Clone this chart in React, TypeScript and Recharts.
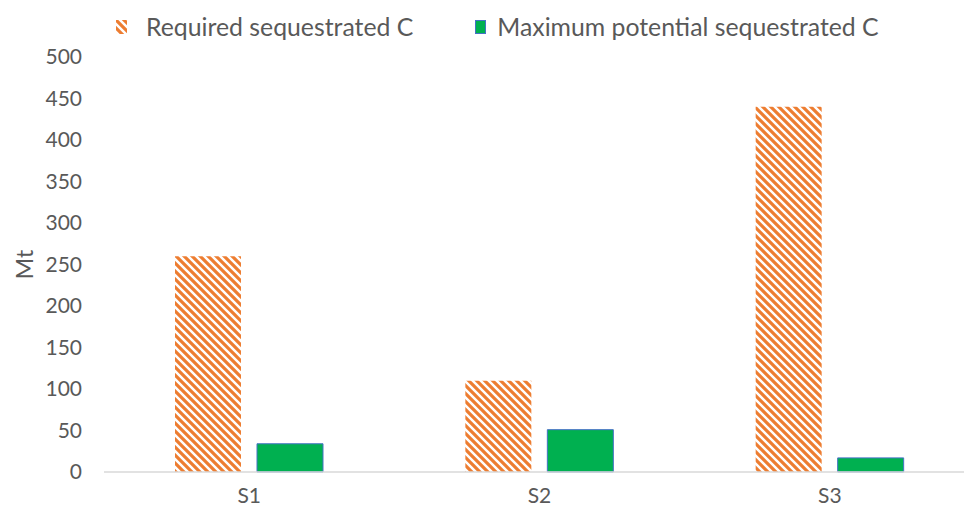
import React from 'react';
import { BarChart, Bar, XAxis, YAxis, Legend, Label } from 'recharts';

const scenarios = ['S1', 'S2', 'S3'];
const requiredC = [260, 110, 440];
const maxPotentialC = [34, 51, 17];
const yTicks = [0, 50, 100, 150, 200, 250, 300, 350, 400, 450, 500];

const data = scenarios.map((name, i) => ({
  name,
  required: requiredC[i],
  potential: maxPotentialC[i],
}));

const FONT = 'Lato, "Noto Sans", sans-serif';
const TEXT = '#595959';

// legend drawn by hand so the hatched swatch matches the bars
const renderLegend = () => (
  <div
    style={{
      height: 47,
      display: 'flex',
      alignItems: 'flex-start',
      paddingTop: 3,
      boxSizing: 'border-box',
      fontFamily: FONT,
      fontSize: 24.8,
      lineHeight: '28px',
      color: TEXT,
    }}
  >
    <div style={{ display: 'flex', alignItems: 'center', marginLeft: 116 }}>
      <svg width={11} height={14} style={{ marginRight: 19 }}>
        <rect width={11} height={14} fill="url(#hatch)" />
      </svg>
      <span>Required sequestrated C</span>
    </div>
    <div style={{ display: 'flex', alignItems: 'center', marginLeft: 62 }}>
      <svg width={11} height={14} style={{ marginRight: 11 }}>
        <rect x={0.5} y={0.5} width={10} height={13} fill="#00B050" stroke="#4472C4" />
      </svg>
      <span>Maximum potential sequestrated C</span>
    </div>
  </div>
);

const App: React.FC = () => {
  return (
    <div
      style={{
        position: 'absolute',
        left: 0,
        top: 0,
        width: 964,
        height: 513,
        overflow: 'hidden',
        background: '#fff',
      }}
    >
      <BarChart
        width={990}
        height={513}
        data={data}
        margin={{ top: 10, right: 15, bottom: 0, left: 0 }}
        barGap={16}
      >
        <defs>
          <pattern id="hatch" width={8} height={8} patternUnits="userSpaceOnUse">
            <rect width={8} height={8} fill="#ffffff" />
            <path
              d="M-2,-2 L10,10 M-2,6 L2,10 M6,-2 L10,2"
              stroke="#ED7D31"
              strokeWidth={3.2}
            />
          </pattern>
        </defs>
        <Legend verticalAlign="top" align="left" content={renderLegend} />
        <XAxis
          dataKey="name"
          height={41}
          axisLine={{ stroke: '#d9d9d9', strokeWidth: 1.5 }}
          tickLine={false}
          tickMargin={10}
          tick={{ fill: TEXT, fontSize: 21, fontFamily: FONT }}
        />
        <YAxis
          width={104}
          domain={[0, 500]}
          ticks={yTicks}
          axisLine={false}
          tickLine={false}
          tickMargin={16}
          tick={{ fill: TEXT, fontSize: 21, fontFamily: FONT }}
        >
          <Label
            value="Mt"
            angle={-90}
            position="insideLeft"
            offset={25}
            style={{ fill: TEXT, fontSize: 23, fontFamily: FONT, textAnchor: 'middle' }}
          />
        </YAxis>
        <Bar dataKey="required" fill="url(#hatch)" barSize={66} isAnimationActive={false} />
        <Bar
          dataKey="potential"
          fill="#00B050"
          stroke="#4472C4"
          strokeWidth={1}
          barSize={66}
          isAnimationActive={false}
        />
      </BarChart>
    </div>
  );
};

export default App;
